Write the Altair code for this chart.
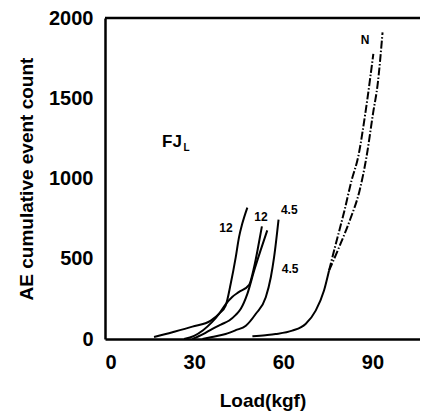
import altair as alt
import pandas as pd

# Solid curves (Load in kgf, AE cumulative counts)
s1_x = [16.5, 22.7, 29.4, 35.6, 38.5, 40.6, 42.3, 44.0, 45.1, 46.2, 47.9]
s1_y = [12, 42, 77, 115, 160, 208, 344, 510, 635, 719, 819]

s2_x = [26.6, 30, 33, 36, 38.5, 40.7, 42.8, 45, 48.5, 50.2, 51.5, 52.8]
s2_y = [0, 20, 55, 105, 160, 219, 262, 292, 337, 450, 570, 702]

s3_x = [29.4, 33, 36, 39, 41.8, 44, 45.7, 47.9, 50.2, 52.5, 54.6]
s3_y = [0, 30, 62, 90, 115, 150, 188, 281, 427, 560, 677]

s4_x = [32.8, 36, 40.6, 44, 47.4, 50.7, 54.1, 55.8, 56.9, 58.4]
s4_y = [0, 12, 31, 55, 83, 156, 260, 385, 510, 744]

nb_x = [49.6, 54, 57.4, 63, 67.5, 70.9, 73.7, 75.4]
nb_y = [17, 24, 31, 52, 94, 177, 302, 427]

# Dash-dot curves (N)
n1_x = [75.4, 77.4, 80.6, 83.0, 85.2, 87.6, 90.3]
n1_y = [427, 573, 802, 990, 1135, 1406, 1777]

n2_x = [75.4, 78.8, 82.4, 85.7, 88.0, 90.2, 91.8, 93.4]
n2_y = [427, 573, 740, 927, 1135, 1406, 1594, 1910]

# Curve labels
lab_text = ["12", "12", "4.5", "4.5", "N"]
lab_x = [40.7, 52.5, 62.0, 62.3, 87.5]
lab_y = [694, 762, 806, 437, 1862]

x_ticks = [0, 30, 60, 90]
y_ticks = [0, 500, 1000, 1500, 2000]

rows = []
def add(name, xs, ys, style):
    for i, (x, y) in enumerate(zip(xs, ys)):
        rows.append({"series": name, "load": x, "count": y, "i": i, "style": style})

add("s1", s1_x, s1_y, "solid")
add("s2", s2_x, s2_y, "solid")
add("s3", s3_x, s3_y, "solid")
add("s4", s4_x, s4_y, "solid")
add("nb", nb_x, nb_y, "solid")
add("n1", n1_x, n1_y, "dashdot")
add("n2", n2_x, n2_y, "dashdot")
df = pd.DataFrame(rows)

labels = pd.DataFrame({"t": lab_text, "x": lab_x, "y": lab_y})

W, H = 315, 321
FONT = "Liberation Sans"

xsc = alt.Scale(domain=[0, 106], nice=False)
ysc = alt.Scale(domain=[0, 2000], nice=False)

xenc = alt.X("load:Q", scale=xsc,
             axis=alt.Axis(title="Load(kgf)", values=x_ticks, format="d", grid=False, ticks=False,
                           labelPadding=13, titlePadding=19, domainWidth=2.5,
                           domainColor="black", labelFont=FONT, labelFontSize=20,
                           labelFontWeight="bold", labelColor="black", titleFont=FONT,
                           titleFontSize=19, titleFontWeight="bold", titleColor="black"))
yenc = alt.Y("count:Q", scale=ysc,
             axis=alt.Axis(title="AE cumulative event count", values=y_ticks, format="d",
                           grid=False, ticks=False, labelPadding=12, titlePadding=12,
                           domainWidth=2.5, domainColor="black", labelFont=FONT,
                           labelFontSize=20, labelFontWeight="bold", labelColor="black",
                           titleFont=FONT, titleFontSize=19, titleFontWeight="bold",
                           titleColor="black"))

solid = alt.Chart(df[df["style"] == "solid"]).mark_line(
    color="black", strokeWidth=2, interpolate="monotone").encode(
    x=xenc, y=yenc, detail="series:N", order="i:Q")

dashdot = alt.Chart(df[df["style"] == "dashdot"]).mark_line(
    color="black", strokeWidth=2, strokeDash=[8, 2, 1.5, 2], interpolate="monotone").encode(
    x=alt.X("load:Q", scale=xsc), y=alt.Y("count:Q", scale=ysc),
    detail="series:N", order="i:Q")

top = alt.Chart(pd.DataFrame({"y": [2000]})).mark_rule(color="black", strokeWidth=2.5).encode(
    y=alt.Y("y:Q", scale=ysc), x=alt.value(0), x2=alt.value(W))

txt = alt.Chart(labels).mark_text(font=FONT, fontSize=12, fontWeight="bold", color="black").encode(
    x=alt.X("x:Q", scale=xsc), y=alt.Y("y:Q", scale=ysc), text="t:N")

fj = alt.Chart(pd.DataFrame({"t": ["FJ"], "x": [19.2], "y": [1169]})).mark_text(
    font=FONT, fontSize=17, fontWeight="bold", color="black", align="left", baseline="bottom").encode(
    x=alt.X("x:Q", scale=xsc), y=alt.Y("y:Q", scale=ysc), text="t:N")
fjl = alt.Chart(pd.DataFrame({"t": ["L"], "x": [26.4], "y": [1156]})).mark_text(
    font=FONT, fontSize=10, fontWeight="bold", color="black", align="left", baseline="bottom").encode(
    x=alt.X("x:Q", scale=xsc), y=alt.Y("y:Q", scale=ysc), text="t:N")

chart = alt.layer(solid, dashdot, top, txt, fj, fjl).properties(
    width=W, height=H,
    autosize=alt.AutoSizeParams(type="none"),
    padding={"left": 97, "top": 10, "right": 0, "bottom": 74},
    background="white",
).configure_view(stroke=None)

chart.save("out.html", embed_options={"renderer": "svg", "actions": False})
